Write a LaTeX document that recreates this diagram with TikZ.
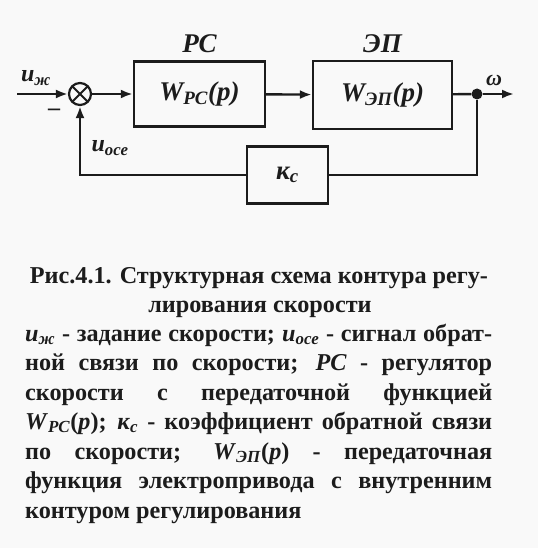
\documentclass[tikz,border=0pt]{standalone}
\usepackage{fontspec}
\setmainfont{Liberation Serif}
\usetikzlibrary{arrows.meta,positioning}
\definecolor{Canvas}{HTML}{F9F9F9}
\definecolor{Ink}{HTML}{1C1C1C}
\newcommand{\capsize}{\fontsize{24.2}{29}\selectfont\bfseries}
\newcommand{\labsize}{\fontsize{27}{30}\selectfont\bfseries\itshape}
\newcommand{\lsub}[1]{\textsubscript{#1}}

\begin{document}
\begin{tikzpicture}[x=1pt,y=-1pt,every node/.style={text=Ink},block/.style={draw=Ink,line width=2.4pt,inner sep=0pt,font=\labsize},sumnode/.style={circle,draw=Ink,line width=2.2pt,minimum size=22pt,inner sep=0pt,path picture={\draw[Ink,line width=2pt] (path picture bounding box.north west)--(path picture bounding box.south east) (path picture bounding box.south west)--(path picture bounding box.north east);}},link/.style={draw=Ink,line width=2.4pt},sig/.style={link,-{Latex[length=12pt,width=9pt]}},junction/.style={circle,fill=Ink,minimum size=11pt,inner sep=0pt},capline/.style={anchor=base west,inner sep=0pt,font=\capsize}]
\fill[Canvas] (0,0) rectangle (538,548);
% structure of the loop
\node[sumnode] (sum) at (80,94){};
\node[block,minimum width=131pt,minimum height=65pt] (rc) at (199.5,94){\textit{W}\lsub{\textit{РС}}(\textit{p})};
\node[block,minimum width=139pt,minimum height=68pt] (ep) at (382.5,95){\textit{W}\lsub{\textit{ЭП}}(\textit{p})};
\node[block,minimum width=81pt,minimum height=57pt] (kc) at (287.5,175){\textit{к}\lsub{\textit{с}}};
\node[junction] (dot) at (477,94){};
\coordinate (in) at (17,94);
\coordinate (out) at (514,94);
\draw[sig] (in) -- (sum);
\draw[sig] (sum) -- (rc);
\draw[sig] (rc) -- (ep);
\draw[link] (ep) -- (dot);
\draw[sig] (dot) -- (out);
\draw[link] (dot) |- (kc);
\draw[sig] (kc) -| (sum);
\node[font=\labsize,above=4pt of rc] (rclab){РС};
\node[font=\labsize,above=4pt of ep] (eplab){ЭП};
\node[font=\fontsize{24}{26}\selectfont\bfseries\itshape] (uin) at (36,78){u\lsub{ж}};
\node[font=\fontsize{22}{24}\selectfont\bfseries\itshape] (wout) at (494,80){ω};
\node[font=\fontsize{24}{26}\selectfont\bfseries\itshape] (ufb) at (110,148){u\lsub{осе}};
\node[font=\fontsize{24}{26}\selectfont\bfseries] (minus) at (54,112){--};
% caption
\node[font=\capsize,anchor=base] (cap1) at (259,283){Рис.4.1. Структурная схема контура регу-};
\node[font=\capsize,anchor=base] (cap2) at (260,312){лирования скорости};
\foreach \y/\txt in {341/{\textit{u}\lsub{\textit{ж}} - задание скорости; \textit{u}\lsub{\textit{осе}} - сигнал обрат-},370/{ной связи по скорости; \textit{РС} - регулятор},400/{скорости с передаточной функцией},429/{\textit{W}\lsub{\textit{РС}}(\textit{p}); \textit{к}\lsub{\textit{с}} - коэффициент обратной связи},459/{по скорости; \textit{W}\lsub{\textit{ЭП}}(\textit{p}) - передаточная},488/{функция электропривода с внутренним}}{
  \node[capline] at (25,\y){\makebox[467pt][s]{\txt}};
}
\node[capline] (cap9) at (25,518){контуром регулирования};
\end{tikzpicture}
\end{document}
